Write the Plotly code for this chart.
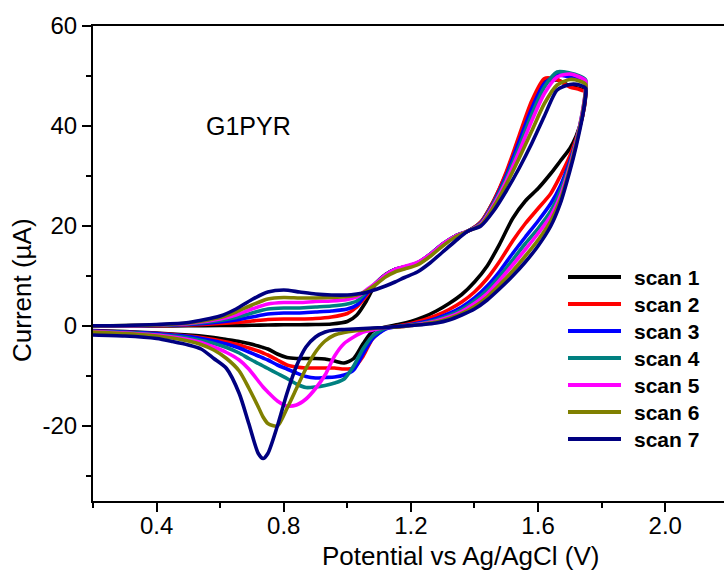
import plotly.graph_objects as go

# ---------------- data ----------------
scan_names = ["scan 1", "scan 2", "scan 3", "scan 4", "scan 5", "scan 6", "scan 7"]
scan_colors = ["#000000", "#FF0000", "#0000FF", "#008080", "#FF00FF", "#808000", "#000080"]

# forward (anodic) sweep potentials, V
v_fwd = [0.2, 0.3, 0.4, 0.5, 0.6, 0.65, 0.7, 0.75, 0.8, 0.85, 0.9, 0.95, 1.0, 1.03, 1.06, 1.09,
         1.12, 1.15, 1.18, 1.22, 1.26, 1.30, 1.34, 1.38, 1.42, 1.46, 1.50, 1.54, 1.58, 1.62, 1.66,
         1.70, 1.73, 1.75]
i_fwd_1 = [0, 0, 0, 0.05, 0.1, 0.1, 0.15, 0.2, 0.25, 0.25, 0.3, 0.4, 0.9, 2.2, 5.0, 8.5,
           10.3, 11.3, 11.8, 12.4, 14.0, 16.3, 18.0, 19.0, 20.8, 25.0, 30.5, 37.5, 44.5, 48.8, 49.2,
           48.0, 47.5, 47.0]
i_fwd_2 = [0, 0, 0.05, 0.2, 0.5, 0.7, 1.0, 1.3, 1.4, 1.4, 1.5, 1.8, 2.5, 3.8, 6.0, 8.6,
           10.2, 11.3, 11.8, 12.6, 14.3, 16.4, 18.0, 19.0, 20.8, 25.0, 30.8, 38.0, 45.0, 49.5, 49.3,
           47.8, 47.3, 46.8]
i_fwd_3 = [0, 0.05, 0.1, 0.3, 0.8, 1.2, 1.8, 2.4, 2.6, 2.6, 2.8, 3.0, 3.4, 4.2, 6.4, 8.6,
           10.2, 11.3, 11.8, 12.6, 14.3, 16.4, 18.0, 19.0, 20.6, 24.7, 30.1, 36.8, 43.5, 48.5, 50.2,
           49.8, 49.2, 48.5]
i_fwd_4 = [0, 0.05, 0.15, 0.4, 1.1, 1.7, 2.6, 3.4, 3.6, 3.6, 3.8, 4.0, 4.4, 5.0, 6.8, 8.6,
           10.2, 11.3, 11.8, 12.6, 14.3, 16.4, 18.0, 19.0, 20.5, 24.5, 29.6, 35.8, 42.3, 47.8, 50.8,
           50.6, 50.0, 49.2]
i_fwd_5 = [0, 0.05, 0.2, 0.5, 1.4, 2.2, 3.4, 4.4, 4.7, 4.7, 4.9, 5.0, 5.3, 5.8, 7.2, 8.6,
           10.2, 11.3, 11.9, 12.7, 14.3, 16.4, 18.0, 19.0, 20.4, 24.2, 29.0, 34.8, 41.0, 46.5, 49.8,
           50.4, 49.8, 49.0]
i_fwd_6 = [0, 0.1, 0.2, 0.6, 1.7, 2.8, 4.2, 5.4, 5.7, 5.6, 5.6, 5.7, 5.9, 6.2, 7.0, 8.3,
           9.8, 10.8, 11.4, 12.2, 13.9, 16.0, 17.8, 19.0, 20.2, 23.8, 28.3, 33.5, 39.0, 44.5, 48.2,
           49.3, 49.0, 48.3]
i_fwd_7 = [0.05, 0.1, 0.3, 0.7, 2.0, 3.4, 5.3, 6.8, 7.2, 6.8, 6.4, 6.2, 6.2, 6.4, 6.7, 7.3,
           8.0, 8.8, 9.7, 10.8, 12.6, 14.8, 17.0, 19.0, 20.0, 23.0, 27.0, 31.5, 36.5, 42.0, 47.2,
           48.3, 48.2, 47.5]

# reverse (cathodic) sweep potentials, V
v_rev = [1.75, 1.74, 1.72, 1.70, 1.67, 1.64, 1.60, 1.56, 1.52, 1.48, 1.44, 1.40, 1.36, 1.32,
         1.28, 1.24, 1.20, 1.16, 1.12, 1.08, 1.05, 1.02, 0.99, 0.96, 0.93, 0.90, 0.87, 0.84,
         0.81, 0.78, 0.75, 0.735, 0.72, 0.69, 0.66, 0.62, 0.58, 0.54, 0.50, 0.45, 0.40, 0.30, 0.20]
i_rev_1 = [46.0, 42.0, 38.0, 35.5, 33.0, 30.5, 27.5, 25.0, 21.5, 16.5, 12.0, 8.8, 6.3, 4.5,
           3.0, 1.8, 0.9, 0.3, -0.2, -1.0, -3.5, -6.5, -7.4, -7.0, -6.6, -6.5, -6.5, -6.5,
           -6.3, -5.6, -4.6, -4.3, -4.0, -3.5, -3.1, -2.7, -2.3, -2.0, -1.8, -1.6, -1.4, -1.1, -0.9]
i_rev_2 = [46.5, 42.0, 37.5, 34.0, 30.0, 26.5, 23.5, 20.5, 17.0, 13.0, 9.5, 6.8, 4.8, 3.3,
           2.1, 1.2, 0.5, 0.0, -0.5, -2.5, -6.0, -8.4, -8.6, -8.4, -8.4, -8.4, -8.4, -8.2,
           -7.8, -6.8, -5.8, -5.4, -5.0, -4.4, -3.8, -3.2, -2.7, -2.3, -2.0, -1.7, -1.5, -1.2, -1.0]
i_rev_3 = [47.0, 42.5, 37.0, 33.0, 28.0, 24.5, 21.0, 17.8, 14.5, 11.0, 8.0, 5.6, 3.8, 2.5,
           1.5, 0.8, 0.3, -0.1, -0.6, -2.5, -5.5, -8.8, -9.8, -10.2, -10.3, -10.4, -10.1, -9.4,
           -8.6, -7.8, -6.8, -6.4, -6.0, -5.2, -4.4, -3.6, -3.0, -2.5, -2.1, -1.8, -1.5, -1.2, -1.0]
i_rev_4 = [47.5, 43.0, 37.0, 32.5, 27.0, 23.0, 19.5, 16.5, 13.2, 10.0, 7.2, 5.0, 3.3, 2.1,
           1.2, 0.6, 0.2, -0.1, -0.4, -2.0, -4.5, -8.0, -10.6, -11.4, -11.9, -12.2, -12.3, -11.6,
           -10.5, -9.5, -8.5, -8.0, -7.5, -6.5, -5.4, -4.3, -3.5, -2.9, -2.4, -2.0, -1.7, -1.3, -1.1]
i_rev_5 = [47.8, 43.0, 36.8, 32.0, 26.0, 22.0, 18.5, 15.3, 12.2, 9.2, 6.5, 4.5, 2.9, 1.8,
           1.0, 0.5, 0.1, -0.2, -0.3, -0.8, -1.2, -2.2, -3.5, -6.0, -9.8, -12.5, -14.6, -15.8,
           -16.0, -15.0, -13.2, -12.2, -11.0, -8.6, -6.8, -5.3, -4.2, -3.3, -2.7, -2.2, -1.8, -1.4, -1.1]
i_rev_6 = [47.5, 42.5, 36.5, 31.5, 25.2, 21.0, 17.2, 14.0, 11.0, 8.3, 5.8, 3.9, 2.5, 1.5,
           0.8, 0.4, 0.1, -0.2, -0.3, -0.5, -0.8, -1.0, -1.3, -1.8, -3.0, -5.2, -8.5, -12.5,
           -16.5, -20.0, -19.5, -18.2, -16.2, -12.4, -9.0, -6.5, -4.8, -3.7, -3.0, -2.4, -2.0, -1.5, -1.2]
i_rev_7 = [46.5, 42.0, 36.0, 31.0, 24.5, 20.0, 16.0, 12.8, 10.0, 7.5, 5.2, 3.4, 2.2, 1.2,
           0.6, 0.3, 0.1, -0.1, -0.3, -0.4, -0.5, -0.6, -0.7, -0.8, -1.2, -2.2, -4.2, -8.0,
           -13.5, -20.0, -25.5, -26.5, -25.5, -19.5, -13.5, -8.5, -6.5, -4.6, -3.8, -3.1, -2.5, -2.0, -1.8]

i_fwd = [i_fwd_1, i_fwd_2, i_fwd_3, i_fwd_4, i_fwd_5, i_fwd_6, i_fwd_7]
i_rev = [i_rev_1, i_rev_2, i_rev_3, i_rev_4, i_rev_5, i_rev_6, i_rev_7]

x_ticks = [0.4, 0.8, 1.2, 1.6, 2.0]
y_ticks = [-20, 0, 20, 40, 60]

# ---------------- figure ----------------
W, H = 724, 577
ML, MR, MT, MB = 93, 0, 26, 76
PW, PH = W - ML - MR, H - MT - MB

def px_x(px):
    return (px - ML) / PW

def px_y(py):
    return (H - MB - py) / PH

FONT = "Liberation Sans, Arial, sans-serif"

fig = go.Figure()
for name, col, f, r in zip(scan_names, scan_colors, i_fwd, i_rev):
    fig.add_trace(go.Scatter(
        x=v_fwd + v_rev, y=f + r, mode="lines", name=name,
        line=dict(color=col, width=3.6, shape="spline", smoothing=0.7),
        showlegend=False,
    ))

# manual legend (line samples + bold labels)
leg_y0, leg_dy = 277, 27.0
for k, (name, col) in enumerate(zip(scan_names, scan_colors)):
    yy = px_y(leg_y0 + k * leg_dy)
    fig.add_shape(type="line", xref="paper", yref="paper",
                  x0=px_x(568), x1=px_x(621), y0=yy, y1=yy,
                  line=dict(color=col, width=4))
    fig.add_annotation(xref="paper", yref="paper", x=px_x(632), y=yy,
                       text="<b>%s</b>" % name, showarrow=False,
                       xanchor="left", yanchor="middle",
                       font=dict(family=FONT, size=21, color="black"))

# sample label
fig.add_annotation(xref="paper", yref="paper", x=px_x(204), y=px_y(126),
                   text="G1PYR", showarrow=False, xanchor="left", yanchor="middle",
                   font=dict(family=FONT, size=25, color="black"))

# axis titles
fig.add_annotation(xref="paper", yref="paper", x=px_x(460), y=px_y(556),
                   text="Potential vs Ag/AgCl (V)", showarrow=False,
                   xanchor="center", yanchor="middle",
                   font=dict(family=FONT, size=26, color="black"))
fig.add_annotation(xref="paper", yref="paper", x=px_x(22), y=px_y(290),
                   text="Current (\u00b5A)", showarrow=False, textangle=-90,
                   xanchor="center", yanchor="middle",
                   font=dict(family=FONT, size=26, color="black"))

fig.update_layout(
    width=W, height=H, autosize=False,
    margin=dict(l=ML, r=MR, t=MT, b=MB, pad=0),
    paper_bgcolor="white", plot_bgcolor="white",
    showlegend=False,
    font=dict(family=FONT, color="black"),
)
fig.update_xaxes(
    range=[0.2, 0.2 + PW / 317.9], showgrid=False, zeroline=False,
    showline=True, linecolor="black", linewidth=2, mirror=True,
    ticks="outside", ticklen=9, tickwidth=2, tickcolor="black",
    tickvals=x_ticks, ticktext=["%.1f" % v for v in x_ticks],
    ticklabelstandoff=-7,
    minor=dict(tickvals=[0.2, 0.6, 1.0, 1.4, 1.8], ticklen=5, tickwidth=2,
               tickcolor="black", ticks="outside"),
    tickfont=dict(family=FONT, size=24, color="black"),
)
fig.update_yaxes(
    range=[-35, 60], showgrid=False, zeroline=False,
    showline=True, linecolor="black", linewidth=2, mirror=False,
    ticks="outside", ticklen=9, tickwidth=2, tickcolor="black",
    tickvals=y_ticks, ticktext=[str(v) for v in y_ticks],
    minor=dict(tickvals=[-30, -10, 10, 30, 50], ticklen=5, tickwidth=2,
               tickcolor="black", ticks="outside"),
    tickfont=dict(family=FONT, size=24, color="black"),
)

fig.write_html("out.html")
